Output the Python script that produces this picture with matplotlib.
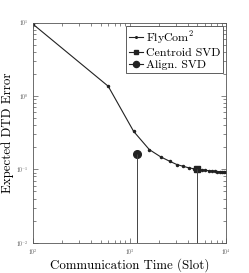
import numpy as np
import matplotlib
matplotlib.use('Agg')
import matplotlib.pyplot as plt
from matplotlib.ticker import LogLocator, NullFormatter

# === DADOS ===
slots = [100, 600, 1100, 1600, 2100, 2600, 3100, 3600, 4100, 4600, 5100,
         5600, 6100, 6600, 7100, 7600, 8100, 8600, 9100, 9600, 10000]
erro_flycom = [9.5, 1.36, 0.33, 0.186, 0.148, 0.129, 0.116, 0.110, 0.105, 0.102, 0.100,
               0.098, 0.097, 0.096, 0.095, 0.094, 0.093, 0.093, 0.092, 0.092, 0.091]

centroid_x = [5000]
centroid_y = [0.1]
align_x = [1200]
align_y = [0.16]

plt.rcParams['font.family'] = 'serif'
plt.rcParams['font.serif'] = ['cmr10', 'DejaVu Serif']
plt.rcParams['mathtext.fontset'] = 'cm'
plt.rcParams['axes.formatter.use_mathtext'] = True

fig = plt.figure(figsize=(2.49, 2.73), dpi=100)
ax = fig.add_axes([0.133, 0.111, 0.775, 0.806])

cor = '#222222'
ax.plot(slots, erro_flycom, '-', color=cor, lw=0.8, marker='.', ms=3, label='FlyCom$^2$')
ax.plot(centroid_x, centroid_y, '-', color=cor, lw=0.8, marker='s', ms=4, label='Centroid SVD')
ax.plot(align_x, align_y, '-', color=cor, lw=0.8, marker='o', ms=5.5, label='Align. SVD')

# linhas verticais (stems)
ax.vlines(centroid_x, 0.01, centroid_y, color='#444444', lw=0.7)
ax.vlines(align_x, 0.01, align_y, color='#444444', lw=0.7)

ax.set_xscale('log')
ax.set_yscale('log')
ax.set_xlim(100, 10000)
ax.set_ylim(0.01, 10)
for eixo in (ax.xaxis, ax.yaxis):
    eixo.set_minor_locator(LogLocator(base=10, subs=np.arange(2, 10), numticks=20))
    eixo.set_minor_formatter(NullFormatter())

ax.tick_params(which='both', direction='in', top=True, right=True, labelsize=4, width=0.5, colors='#555555')
ax.tick_params(which='major', length=3.5)
ax.tick_params(which='minor', length=2)
for s in ax.spines.values():
    s.set_linewidth(0.6)
    s.set_color('#555555')

ax.set_xlabel('Communication Time (Slot)', fontsize=9.3, labelpad=1)
ax.set_ylabel('Expected DTD Error', fontsize=9.3, labelpad=1)

leg = ax.legend(loc='upper right', fontsize=8.6, fancybox=False, edgecolor='#444444',
                handlelength=1.2, handletextpad=0.2, borderpad=0.25, labelspacing=0.15,
                borderaxespad=0.25, framealpha=1, markerscale=0.8)
leg.get_frame().set_linewidth(0.6)

plt.savefig('out.png', dpi=100)
